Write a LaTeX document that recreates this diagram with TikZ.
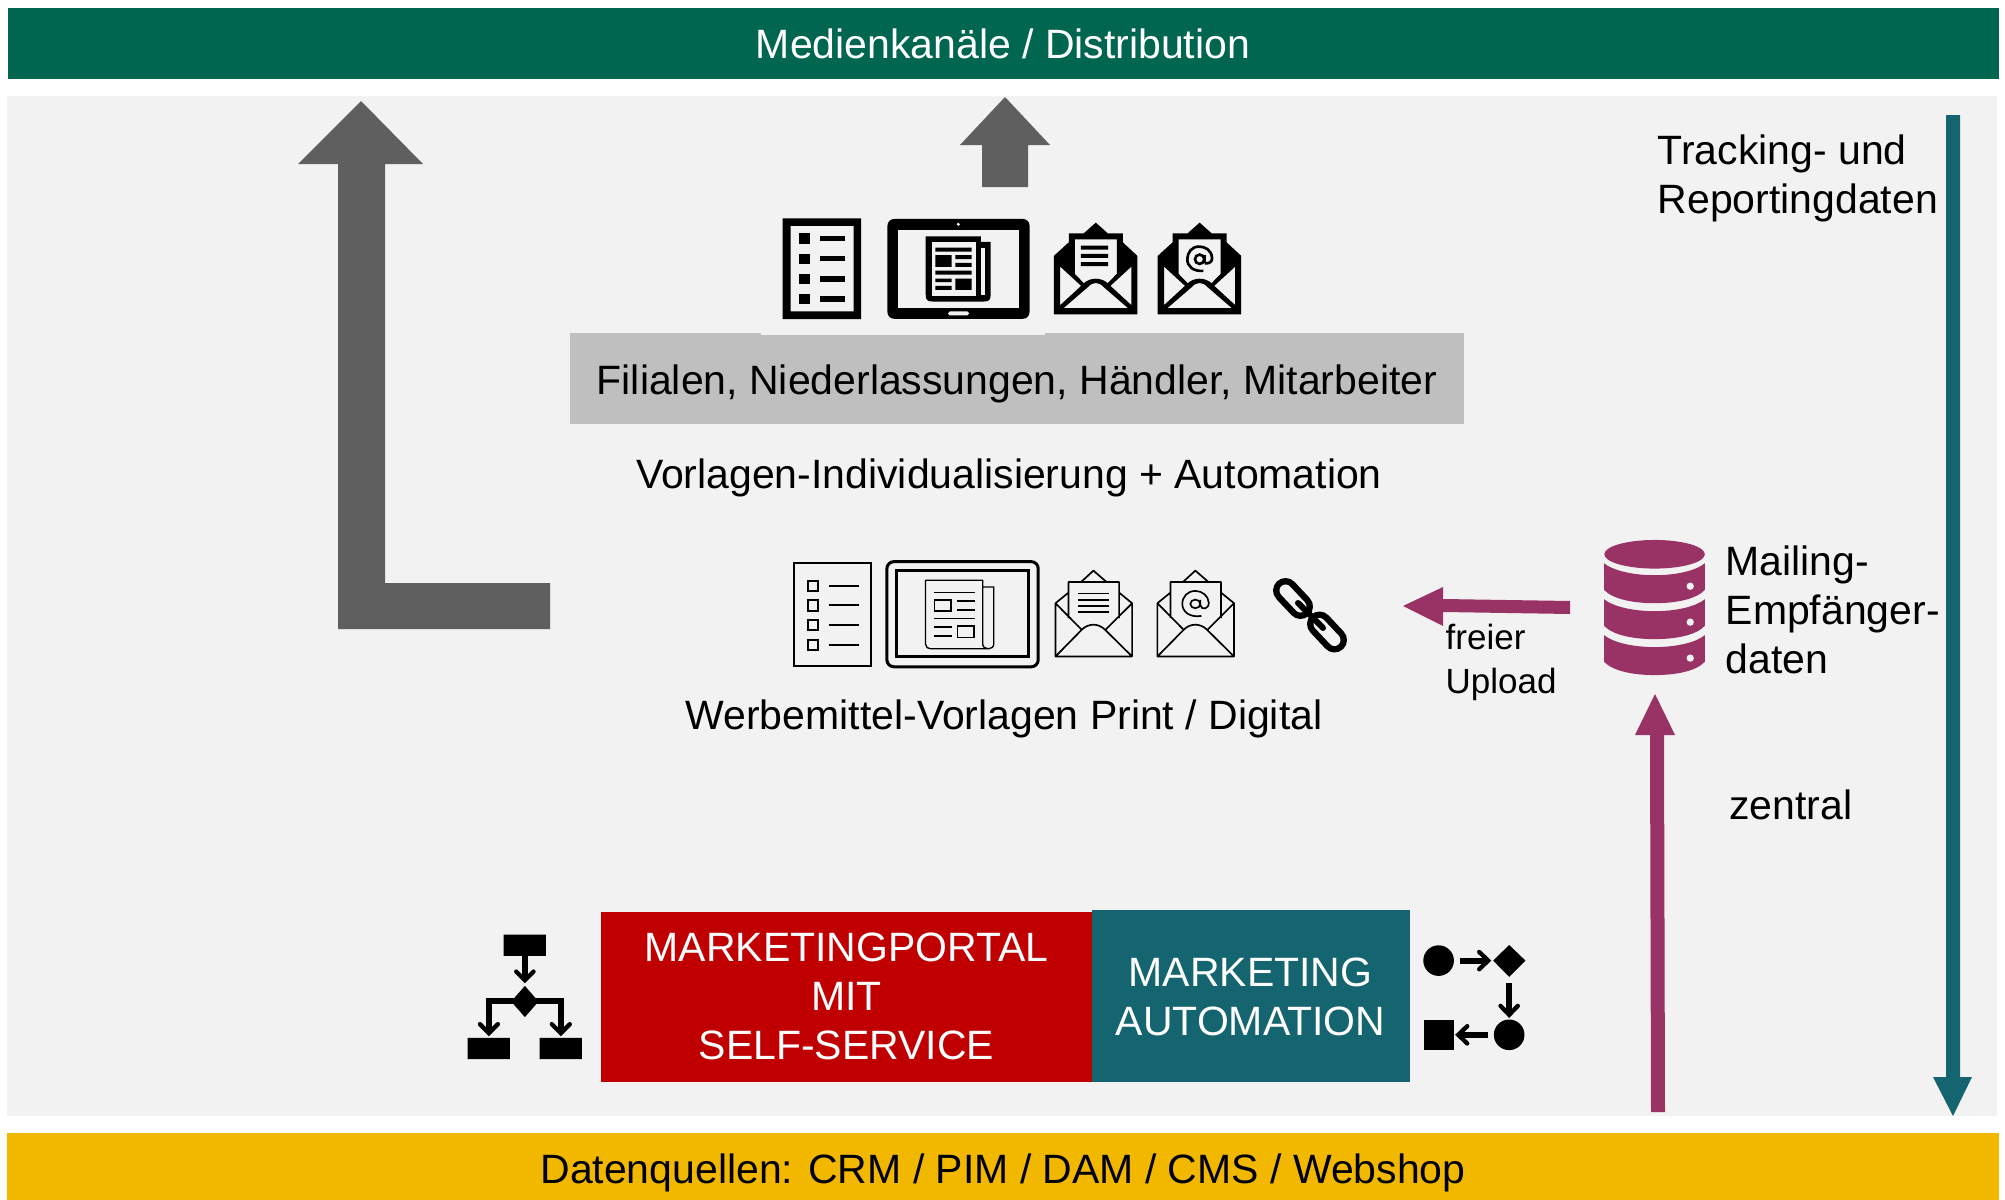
\documentclass[tikz,border=0pt]{standalone}
\usepackage{fontspec}
\setmainfont{Liberation Sans}
\definecolor{bggray}{HTML}{F2F2F2}
\definecolor{barGreen}{HTML}{00664F}
\definecolor{barYellow}{HTML}{F2B800}
\definecolor{boxGray}{HTML}{BFBFBF}
\definecolor{arrowGray}{HTML}{5F5F5F}
\definecolor{mRed}{HTML}{C00000}
\definecolor{mTeal}{HTML}{156570}
\definecolor{mPurple}{HTML}{993366}
\def\zu{0.09485pt}
\tikzset{
  lbl/.style={inner sep=0pt,font=\fontsize{11.65}{13.95}\selectfont,align=center,text=black},
  lblL/.style={lbl,align=left,anchor=west},
  small/.style={lblL,font=\fontsize{9.95}{12.5}\selectfont},
  zoomed/.style={shift={#1},x=0.00333333cm,y=-0.00333333cm},
  zoomedB/.style={shift={#1},x=0.003827cm,y=-0.00333333cm},
  thinln/.style={draw=black,line width=5*\zu},
  flowln/.style={draw=black,line width=18*\zu},
  chev/.style={draw=black,line width=13*\zu,line cap=round,line join=miter},
}
% solid envelope, drawn in its own local coordinates
\newcommand{\envSolid}{%
  \fill[black,even odd rule]
    (883,168)--(928,127)--(928,100)--(973,100)--(1009,68)--(1045,100)--(1090,100)--(1090,127)--(1134,168)--(1134,344)--(883,344)--cycle
    (946,118)--(1072,118)--(1072,222)--(1045,250) .. controls (1025,232) and (993,232) .. (973,250)--(946,222)--cycle
    (902,200)--(965,258)--(902,316)--cycle
    (1116,200)--(1053,258)--(1116,316)--cycle
    (912,325)--(985,262) .. controls (1000,245) and (1018,245) .. (1033,262)--(1106,325)--cycle;
}
\newcommand{\envLine}{%
  \draw[thinln,line join=round] (745,190)--(745,350)--(945,350)--(945,190)--(911,158)
    (745,190)--(779,158)
    (812,126)--(844,92)--(878,126)
    (779,235)--(779,126)--(911,126)--(911,235)
    (745,190)--(812,268) (945,190)--(877,268)
    (745,350)--(815,268) .. controls (832,250) and (856,250) .. (873,268)--(945,350);
}
\begin{document}
\begin{tikzpicture}[x=0.01cm,y=-0.01cm]
\useasboundingbox (0,0) rectangle (2005,1200);
\fill[white] (0,0) rectangle (2005,1200);
% bands
\fill[bggray] (7,96) rectangle (1997,1116);
\fill[barGreen] (8,8) rectangle (1999,79);
\fill[barYellow] (7,1133) rectangle (1999,1200);
\node[lbl,text=white] (medien) at (1003,44) {Medienkanäle / Distribution};
\node[lbl] (daten) at (1003,1173) {Datenquellen: CRM / PIM / DAM / CMS / Webshop};

% grey arrows
\fill[arrowGray] (361,101)--(423,164)--(385,164)--(385,583)--(550,583)--(550,629)--(338,629)--(338,164)--(298,164)--cycle;
\fill[arrowGray] (1005,97)--(1050,145)--(1028,145)--(1028,187)--(982,187)--(982,145)--(960,145)--cycle;

% teal arrow
\fill[mTeal] (1946,115)--(1960,115)--(1960,1077)--(1972,1077)--(1953,1116)--(1933,1077)--(1946,1077)--cycle;
% purple arrows
\fill[mPurple] (1655,694)--(1675,735)--(1664,735)--(1665,1112)--(1651,1112)--(1650,735)--(1635,735)--cycle;
\fill[mPurple] (1403,606)--(1443,587)--(1443,599)--(1570,601)--(1570,614)--(1443,612)--(1443,626)--cycle;

% grey box
\fill[boxGray] (570,333) rectangle (1464,424);
\fill[bggray] (761,325) rectangle (1045,334.5);
\node[lbl] (filialen) at (1017,384) {Filialen, Niederlassungen, Händler, Mitarbeiter};
\node[lbl] (vorlagen) at (1009,478) {Vorlagen-Individualisierung + Automation};
\node[lbl] (werbe) at (1004,719) {Werbemittel-Vorlagen Print / Digital};

% solid icons row
\begin{scope}[zoomed={(760,200)}]
  \fill[black,even odd rule] (68,55) rectangle (304,358) (92,78) rectangle (281,335);
  \foreach \y in {100,161,222,282}{
    \fill[black] (118,\y) rectangle (149,\y+31);
    \fill[black] (179,\y+7) rectangle (255,\y+23);
  }
  \fill[black,rounded corners=1.9pt] (383,57) rectangle (810,357);
  \fill[bggray] (414,89) rectangle (778,325);
  \fill[bggray] (596,73) circle (5);
  \fill[bggray,rounded corners=0.5pt] (565,335) rectangle (628,347);
  \fill[black] (498,109)--(664,109)--(664,126)--(693,126)--(693,285) .. controls (693,300) and (688,305) .. (673,305)--(518,305) .. controls (503,305) and (498,300) .. (498,285)--cycle;
  \fill[bggray] (516,125) rectangle (648,287);
  \fill[bggray] (664,144) rectangle (677,285);
  \fill[black] (527,143) rectangle (636,155) (527,166) rectangle (576,201)
    (587,166) rectangle (636,178) (587,189) rectangle (636,201)
    (527,212) rectangle (636,224) (527,236) rectangle (576,247)
    (527,258) rectangle (576,270) (587,236) rectangle (636,270);
  \envSolid
  \fill[black] (964,137) rectangle (1046,149) (964,162) rectangle (1046,174) (964,187) rectangle (1046,199);
  \begin{scope}[xshift=312*0.00333333cm]
    \envSolid
    \draw[black,line width=8*\zu] (1009,178) circle (14);
    \draw[black,line width=8*\zu] (1024,190) .. controls (1048,192) and (1046,178) .. (1046,172) .. controls (1044,150) and (1025,140) .. (1007,140) .. controls (985,140) and (972,158) .. (972,178) .. controls (972,200) and (990,215) .. (1020,213);
    \draw[black,line width=8*\zu] (1023,166)--(1023,190);
  \end{scope}
\end{scope}

% outlined icons row
\begin{scope}[zoomedB={(770,540)}]
  \draw[thinln] (63,70) rectangle (264,378);
  \foreach \y in {122,181,240,299}{
    \draw[thinln,line width=6*\zu] (98,\y) rectangle (125,\y+31);
    \draw[thinln,line width=6*\zu] (153,\y+15) -- (232,\y+15);
  }
  \draw[draw=black,line width=9*\zu,rounded corners=2pt] (305,65) rectangle (700,381);
  \draw[draw=black,line width=9*\zu] (329,93) rectangle (675,351);
  \draw[draw=black,line width=4*\zu,line join=round]
    (555,141)--(584,141)--(584,312) .. controls (584,332) and (555,332) .. (555,312)--(555,121)--(406,121)--(406,313) .. controls (406,322) and (412,327) .. (420,327)--(570,327);
  \draw[draw=black,line width=5*\zu]
    (428,158)--(535,158) (488,184)--(535,184) (488,210)--(535,210)
    (428,236)--(535,236) (428,262)--(476,262) (428,288)--(476,288);
  \draw[draw=black,line width=5*\zu] (429,181) rectangle (473,214) (489,258) rectangle (533,293);
  \envLine
  \draw[draw=black,line width=5*\zu] (804,161)--(885,161) (804,180)--(885,180) (804,198)--(885,198) (804,217)--(885,217);
  \begin{scope}[xshift=266*0.003827cm]
    \envLine
    \draw[draw=black,line width=5*\zu] (844,192) ellipse (13 and 13);
    \draw[draw=black,line width=5*\zu] (857,180)--(857,196) .. controls (860,212) and (880,208) .. (879,188) .. controls (878,168) and (862,153) .. (844,153) .. controls (824,153) and (810,170) .. (810,192) .. controls (810,216) and (830,234) .. (860,228);
  \end{scope}
\end{scope}
% chain
\begin{scope}[shift={(770,540)}]
  \draw[black,line width=25*3*\zu,line cap=round] (515.5,50.5)--(530.5,66.5);
  \draw[black,line width=25*3*\zu,line cap=round] (549.5,84)--(564.5,100);
  \draw[bggray,line width=12*3*\zu,line cap=round] (515.5,50.5)--(530.5,66.5);
  \draw[bggray,line width=12*3*\zu,line cap=round] (549.5,84)--(564.5,100);
  \draw[black,line width=6*3*\zu,line cap=round] (528,63)--(553,88);
\end{scope}

% flow icon left
\begin{scope}[zoomed={(440,900)}]
  \fill[black] (191,104) rectangle (318,168) (83,414) rectangle (210,478) (299,414) rectangle (426,478);
  \fill[black] (255,258)--(296,305)--(255,352)--(214,305)--cycle;
  \draw[flowln] (255,168)--(255,238);
  \draw[chev] (229,215)--(255,241)--(281,215);
  \draw[flowln] (147,398)--(147,304)--(363,304)--(363,398);
  \draw[chev] (120,373)--(147,400)--(174,373);
  \draw[chev] (336,373)--(363,400)--(390,373);
\end{scope}

% flow icon right
\begin{scope}[zoomed={(1400,920)}]
  \fill[black] (116,122) circle (46);
  \fill[black] (328,345) circle (46);
  \fill[black] (71,299) rectangle (162,390);
  \fill[black] (328,75)--(377,122)--(328,171)--(280,122)--cycle;
  \draw[flowln] (179,122)--(262,122);
  \draw[chev] (238,96)--(265,122)--(238,148);
  \draw[flowln] (328,190)--(328,282);
  \draw[chev] (302,258)--(328,285)--(354,258);
  \draw[flowln] (265,345)--(178,345);
  \draw[chev] (202,319)--(175,345)--(202,371);
\end{scope}

% database icon
\begin{scope}[zoomed={(1400,510)}]
  \fill[mPurple] (765,133) ellipse (151 and 43);
  \foreach \t in {0,108,216}{
    \fill[mPurple] (613,{160+\t}) .. controls (640,{182+\t}) and (700,{196+\t}) .. (765,{196+\t}) .. controls (830,{196+\t}) and (890,{182+\t}) .. (916,{160+\t}) -- (916,{240+\t}) .. controls (890,{268+\t}) and (830,{280+\t}) .. (765,{280+\t}) .. controls (700,{280+\t}) and (640,{268+\t}) .. (613,{240+\t}) -- cycle;
    \fill[bggray] (872,{229+\t}) circle (11);
  }
\end{scope}

% boxes
\fill[mRed] (600.5,911.5) rectangle (1092,1082);
\fill[mTeal] (1092,910) rectangle (1410,1082);
\node[lbl,text=white] (portal) at (846.5,996) {MARKETINGPORTAL\\MIT\\SELF-SERVICE};
\node[lbl,text=white] (auto) at (1250.5,996.5) {MARKETING\\AUTOMATION};

% side labels
\node[lblL] (tracking) at (1657,178) {Tracking- und\\Reportingdaten};
\node[lblL] (mailing) at (1725,610) {Mailing-\\Empfänger-\\daten};
\node[small] (upload) at (1445,662.5) {freier\\Upload};
\node[lblL] (zentral) at (1728.5,805) {zentral};
\end{tikzpicture}
\end{document}
